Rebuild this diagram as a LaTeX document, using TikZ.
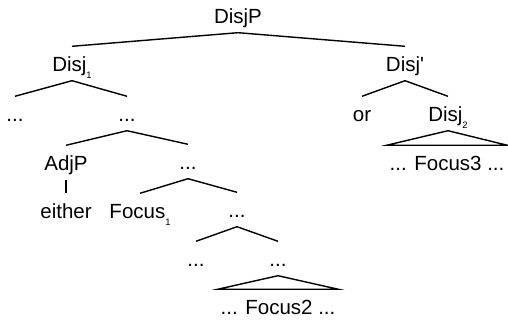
\documentclass[tikz,border=0pt]{standalone}
\usepackage{fontspec}
\setmainfont{Liberation Sans}
\usetikzlibrary{positioning}

\newcommand\subidx[1]{\raisebox{-5.5pt}{\fontsize{8}{8}\selectfont #1}}

\begin{document}
\begin{tikzpicture}[x = 0.03cm, y = -0.03cm, line width = 1.2pt,
                    cat/.style = {anchor = base,
                                  inner sep = 0pt,
                                  text height = 0.75cm,
                                  text depth = 0.24cm,
                                  font = \fontsize{17.5}{20}\selectfont},
                    tri/.style = {inner xsep = 2pt}]

\useasboundingbox (0,0) rectangle (508,321);

\node[cat] (DisjP)  at (238,24)  {DisjP};
\node[cat] (Disj1)  at (72,72)   {Disj\subidx{1}};
\node[cat] (Disjb)  at (405,72)  {Disj\textquotesingle};
\node[cat] (dotsA)  at (15,122)  {...};
\node[cat] (dotsB)  at (127,122) {...};
\node[cat] (or)     at (362,122) {or};
\node[cat] (Disj2)  at (448,122) {Disj\subidx{2}};
\node[cat, tri] (Foc3) at (447,171) {... Focus3 ...};
\node[cat] (AdjP)   at (66,171)  {AdjP};
\node[cat] (dotsC)  at (188,170) {...};
\node[cat] (either) at (66,219)  {either};
\node[cat] (Foc1)   at (140,219) {Focus\subidx{1}};
\node[cat] (dotsD)  at (237,218) {...};
\node[cat] (dotsE)  at (196,267) {...};
\node[cat] (dotsF)  at (278,267) {...};
\node[cat, tri] (Foc2) at (278,315) {... Focus2 ...};

\foreach \a/\b in {DisjP/Disj1, DisjP/Disjb, Disj1/dotsA, Disj1/dotsB,
                   Disjb/or, Disjb/Disj2, dotsB/AdjP, dotsB/dotsC,
                   AdjP/either, dotsC/Foc1, dotsC/dotsD, dotsD/dotsE,
                   dotsD/dotsF}
  \draw (\a.south) -- (\b.north);

\draw (Disj2.south) -- (Foc3.north west) -- (Foc3.north east) -- cycle;
\draw (dotsF.south) -- (Foc2.north west) -- (Foc2.north east) -- cycle;

\end{tikzpicture}
\end{document}
